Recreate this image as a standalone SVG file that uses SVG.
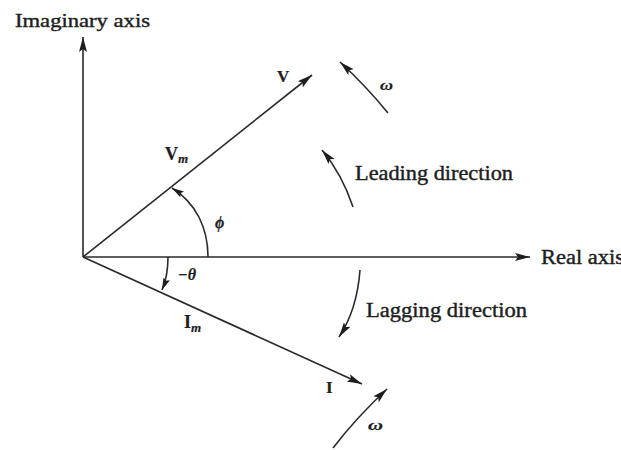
<svg xmlns="http://www.w3.org/2000/svg" width="621" height="450" viewBox="0 0 621 450">
<style>
.ln{stroke:#2a2a2a;stroke-width:1.6;fill:none}
.t{font-family:"Liberation Serif","Times New Roman",serif;fill:#1e1e1e;stroke:#1e1e1e;stroke-width:0.4}
.b{font-weight:bold;stroke-width:0.2}
.it{font-style:italic}
</style>
<defs>
<marker id="ah" markerUnits="userSpaceOnUse" markerWidth="16" markerHeight="10" refX="15" refY="4" orient="auto">
<path d="M0,0 L15,4 L0,8 L3,4 z" fill="#1e1e1e"/>
</marker>
<marker id="ahs" markerUnits="userSpaceOnUse" markerWidth="13" markerHeight="9" refX="12" refY="3.5" orient="auto">
<path d="M0,0 L12,3.5 L0,7 L2,3.5 z" fill="#1e1e1e"/>
</marker>
</defs>
<rect width="621" height="450" fill="#fff"/>
<g id="connectors">
<line id="imag-axis" class="ln" x1="83" y1="257" x2="83" y2="37" marker-end="url(#ah)"/>
<line id="real-axis" class="ln" x1="83" y1="257" x2="530" y2="257" marker-end="url(#ah)"/>
<line id="V-vec" class="ln" x1="83" y1="257" x2="312" y2="75" marker-end="url(#ah)"/>
<line id="I-vec" class="ln" x1="83" y1="257" x2="362" y2="384" marker-end="url(#ah)"/>
<path id="omega-top" class="ln" d="M388,113 Q366,86 340,62" marker-end="url(#ah)"/>
<path id="leading" class="ln" d="M353,207 Q342,174 322,150" marker-end="url(#ah)"/>
<path id="lagging" class="ln" d="M360,270 Q357,310 339,337" marker-end="url(#ah)"/>
<path id="omega-bot" class="ln" d="M333,448 Q356,418 387,389" marker-end="url(#ah)"/>
<path id="phi-arc" class="ln" d="M208,257 C208,228 196,203 172,188" marker-end="url(#ahs)"/>
<path id="theta-arc" class="ln" d="M168,257 Q168,276 162,290" marker-end="url(#ahs)"/>
</g>
<g id="label-imag"><text class="t" x="15" y="27" font-size="19" textLength="135" lengthAdjust="spacingAndGlyphs">Imaginary axis</text></g>
<g id="label-real"><text class="t" x="541" y="264" font-size="20" textLength="83" lengthAdjust="spacingAndGlyphs">Real axis</text></g>
<g id="label-V"><text class="t b" x="277" y="82" font-size="17">V</text></g>
<g id="label-Vm"><text class="t b" x="165" y="160" font-size="18">V<tspan class="it" font-size="13" dy="3">m</tspan></text></g>
<g id="label-I"><text class="t b" x="326" y="393" font-size="17">I</text></g>
<g id="label-Im"><text class="t b" x="184" y="328" font-size="18">I<tspan class="it" font-size="13" dy="4">m</tspan></text></g>
<g id="label-leading"><text class="t" x="355" y="180" font-size="20" textLength="158" lengthAdjust="spacingAndGlyphs">Leading direction</text></g>
<g id="label-lagging"><text class="t" x="366" y="317" font-size="20" textLength="161" lengthAdjust="spacingAndGlyphs">Lagging direction</text></g>
<g id="label-omega-top"><text class="t it b" x="380" y="90" font-size="15" textLength="13" lengthAdjust="spacingAndGlyphs">ω</text></g>
<g id="label-omega-bot"><text class="t it b" x="368" y="430" font-size="15" textLength="15" lengthAdjust="spacingAndGlyphs">ω</text></g>
<g id="label-phi"><text class="t it b" x="215" y="228" font-size="16">ϕ</text></g>
<g id="label-theta"><text class="t it b" x="178" y="280" font-size="16">−θ</text></g>
</svg>
